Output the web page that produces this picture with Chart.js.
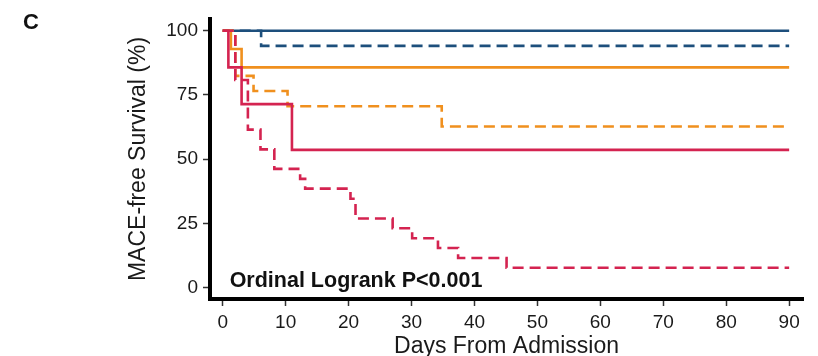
<!DOCTYPE html>
<html>
<head>
<meta charset="utf-8">
<script src="https://cdn.jsdelivr.net/npm/chart.js@4/dist/chart.umd.min.js"></script>
<style>
  html, body { margin: 0; padding: 0; background: #fff; }
  #wrap { width: 818px; height: 356px; }
</style>
</head>
<body>
<div id="wrap"><canvas id="c" width="818" height="356"></canvas></div>
<script>
// ---- data ----
const xTicks = [0, 10, 20, 30, 40, 50, 60, 70, 80, 90];
const yTicks = [0, 25, 50, 75, 100];

const blueSolidDays  = [0, 90];
const blueSolidSurv  = [100, 100];
const blueDashedDays = [0, 6.1, 90];
const blueDashedSurv = [100, 94.1, 94.1];

const orangeSolidDays  = [0, 1.3, 3.0, 90];
const orangeSolidSurv  = [100, 92.9, 85.7, 85.7];
const orangeDashedDays = [0, 2.0, 4.9, 10.3, 34.8, 90];
const orangeDashedSurv = [100, 82.4, 76.5, 70.6, 62.7, 62.7];

const redSolidDays  = [0, 0.9, 3.0, 11.0, 90];
const redSolidSurv  = [100, 85.7, 71.4, 53.6, 53.6];
const redDashedDays = [0, 2.0, 4.0, 6.0, 8.2, 12.3, 13.1, 20.3, 21.1, 27.0, 30.1, 34.2, 37.4, 45.1, 90];
const redDashedSurv = [100, 80.8, 61.5, 53.8, 46.2, 42.3, 38.5, 34.6, 26.9, 23.1, 19.2, 15.4, 11.5, 7.7, 7.7];

const panelLabel = 'C';
const annotationText = 'Ordinal Logrank P<0.001';
const xTitle = 'Days From Admission';
const yTitle = 'MACE-free Survival (%)';

// ---- styling ----
const BLUE = '#1d4f7c';
const ORANGE = '#f0901e';
const RED = '#d42350';
const DASH = [11, 6];
const LW = 2.6;
const FONT = '"Liberation Sans", Arial, Helvetica, sans-serif';
const TXT = '#1a1a1a';

const pts = (xs, ys) => xs.map((x, i) => ({ x: x, y: ys[i] }));
const line = (label, xs, ys, color, dashed) => ({
  label: label,
  data: pts(xs, ys),
  borderColor: color,
  backgroundColor: color,
  borderWidth: LW,
  borderDash: dashed ? DASH : [],
  stepped: 'before',
  pointRadius: 0,
  pointHoverRadius: 0,
  fill: false,
  tension: 0
});

const textPlugin = {
  id: 'texts',
  afterDraw(chart) {
    const ctx = chart.ctx;
    const xs = chart.scales.x, ys = chart.scales.y;
    ctx.save();
    ctx.fillStyle = '#111';
    ctx.textAlign = 'left';
    ctx.textBaseline = 'alphabetic';
    ctx.font = 'bold 22px ' + FONT;
    ctx.fillText(panelLabel, 23, 29);
    ctx.font = 'bold 21.5px ' + FONT;
    ctx.fillText(annotationText, xs.getPixelForValue(1.1), ys.getPixelForValue(0) - 0.8);
    ctx.restore();
  }
};

new Chart(document.getElementById('c'), {
  type: 'line',
  data: {
    datasets: [
      line('Red solid', redSolidDays, redSolidSurv, RED, false),
      line('Red dashed', redDashedDays, redDashedSurv, RED, true),
      line('Orange solid', orangeSolidDays, orangeSolidSurv, ORANGE, false),
      line('Orange dashed', orangeDashedDays, orangeDashedSurv, ORANGE, true),
      line('Blue solid', blueSolidDays, blueSolidSurv, BLUE, false),
      line('Blue dashed', blueDashedDays, blueDashedSurv, BLUE, true)
    ]
  },
  options: {
    responsive: false,
    devicePixelRatio: 1,
    animation: false,
    layout: { padding: { left: 0, right: 15, top: 19, bottom: 0 } },
    plugins: { legend: { display: false }, tooltip: { enabled: false } },
    scales: {
      x: {
        type: 'linear',
        min: -2.02,
        max: 92.2,
        afterBuildTicks: (s) => { s.ticks = xTicks.map(v => ({ value: v })); },
        afterFit: (s) => { s.height = 57; },
        ticks: {
          color: TXT,
          font: { family: FONT, size: 19 },
          padding: 5,
          maxRotation: 0,
          autoSkip: false
        },
        grid: { display: true, drawOnChartArea: false, drawTicks: true, tickLength: 7, tickColor: '#333', tickWidth: 1.5 },
        border: { display: true, color: '#000', width: 4 },
        title: {
          display: true,
          text: xTitle,
          color: TXT,
          font: { family: FONT, size: 23, lineHeight: 0.8 },
          padding: { top: 0, bottom: 0 }
        }
      },
      y: {
        type: 'linear',
        min: -4.45,
        max: 104.55,
        afterBuildTicks: (s) => { s.ticks = yTicks.map(v => ({ value: v })); },
        afterFit: (s) => { s.width = 210; },
        ticks: {
          color: TXT,
          font: { family: FONT, size: 19 },
          padding: 5,
          autoSkip: false
        },
        grid: { display: true, drawOnChartArea: false, drawTicks: true, tickLength: 7, tickColor: '#333', tickWidth: 1.5 },
        border: { display: true, color: '#000', width: 4 },
        title: {
          display: true,
          text: yTitle,
          color: TXT,
          font: { family: FONT, size: 23, lineHeight: 1.2 },
          padding: { top: 125, bottom: 0 }
        }
      }
    }
  },
  plugins: [textPlugin]
});
</script>
</body>
</html>
